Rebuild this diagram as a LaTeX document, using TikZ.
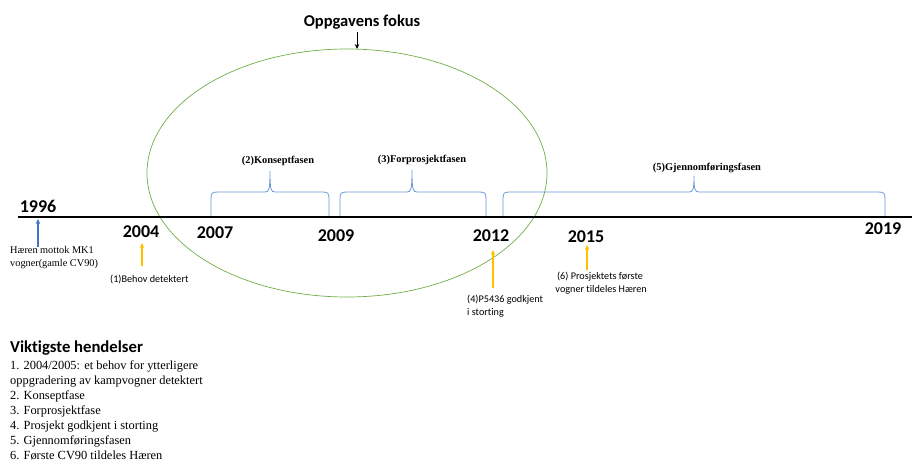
\documentclass[tikz,border=0pt]{standalone}
\usepackage{fontspec}
\setmainfont{Liberation Serif}
\newfontfamily\carlito[Ligatures=NoCommon]{Carlito}
\usetikzlibrary{arrows.meta}
\definecolor{axisblue}{HTML}{4472C4}
\definecolor{bracecol}{HTML}{6A96D6}
\definecolor{focusgreen}{HTML}{70AD47}
\definecolor{eventgold}{HTML}{FFC000}
\tikzset{
  year/.style={font=\carlito\bfseries\fontsize{18}{18}\selectfont, inner sep=0pt},
  phaselabel/.style={font=\bfseries\fontsize{10.4}{12}\selectfont, inner sep=0pt},
  sansnote/.style={font=\carlito\fontsize{10.2}{13}\selectfont, inner sep=0pt, align=left},
  serifnote/.style={font=\fontsize{10.3}{13}\selectfont, inner sep=0pt, align=left},
  eventarrow/.style={eventgold, line width=1.2pt, -{Stealth[length=5pt,width=4.5pt]}},
  bracestyle/.style={bracecol, line width=0.8pt},
  legendline/.style={font=\fontsize{12.4}{15}\selectfont, inner sep=0pt, anchor=base west},
}
% curly phase brace: left x, right x, middle x, tip y
\newcommand\phasebrace[4]{%
  \draw[bracestyle] (#1,216) -- (#1,199)
    .. controls (#1,193) and (#1+1,192) .. (#1+7,192) -- (#3-5,192)
    .. controls (#3-1,192) and (#3,190) .. (#3,#4)
    .. controls (#3,190) and (#3+1,192) .. (#3+5,192) -- (#2-7,192)
    .. controls (#2-1,192) and (#2,193) .. (#2,199) -- (#2,216);}
\begin{document}
\begin{tikzpicture}[x=1pt,y=-1pt]
\useasboundingbox (0,0) rectangle (912,462);

% focus ellipse and its title
\draw[focusgreen, line width=0.7pt] (347,173) ellipse [x radius=200, y radius=124];
\node[font=\carlito\bfseries\fontsize{16.5}{18}\selectfont, inner sep=0pt] (focus) at (362,22) {Oppgavens fokus};
\coordinate (focustop) at (357,49);
\draw[line width=1pt, -{Stealth[length=5pt,width=4.5pt]}] (357,32) -- (focustop);

% time axis
\coordinate (axisstart) at (18,217);
\coordinate (axisend) at (912,217);
\draw[line width=2.6pt] (axisstart) -- (axisend);

% years
\node[year] (y1996) at (38,206) {1996};
\node[year] (y2004) at (141,232) {2004};
\node[year] (y2007) at (215,233) {2007};
\node[year] (y2009) at (336,236) {2009};
\node[year] (y2012) at (491,236) {2012};
\node[year] (y2015) at (586,237) {2015};
\node[year] (y2019) at (883,229) {2019};

% phases
\phasebrace{211}{329}{270}{171}
\phasebrace{340}{486}{412}{170}
\phasebrace{503}{885}{694}{176}
\node[phaselabel] (p2) at (278,161) {(2)Konseptfasen};
\node[phaselabel] (p3) at (422,160) {(3)Forprosjektfasen};
\node[phaselabel] (p5) at (707,168) {(5)Gjennomføringsfasen};

% events
\node[serifnote, anchor=north west] (e0) at (10,246) {Hæren mottok MK1\\vogner(gamle CV90)};
\coordinate (e0tip) at (38,219);
\draw[axisblue, line width=1.2pt, -{Stealth[length=5pt,width=4.5pt]}] (38,247) -- (e0tip);

\node[sansnote, anchor=west] (e1) at (110,279) {(1)Behov detektert};
\coordinate (e1tip) at (142,243);
\draw[eventarrow] (142,266) -- (e1tip);

\node[sansnote, anchor=north west] (e4) at (467,295) {(4)P5436 godkjent\\i storting};
\coordinate (e4tip) at (493,250);
\draw[eventarrow] (493,288) -- (e4tip);

\node[sansnote, align=center, anchor=north] (e6) at (600,272) {(6) Prosjektets første\\ \ vogner tildeles Hæren};
\coordinate (e6tip) at (587,245);
\draw[eventarrow] (587,270) -- (e6tip);

% legend
\node[font=\carlito\bfseries\fontsize{16.7}{18}\selectfont, inner sep=0pt, anchor=west] (legendtitle) at (10,348) {Viktigste hendelser};
\node[legendline] (l1) at (10,369) {1. 2004/2005: et behov for ytterligere};
\node[legendline] (l2) at (10,384) {oppgradering av kampvogner detektert};
\node[legendline] (l3) at (10,399) {2. Konseptfase};
\node[legendline] (l4) at (10,414) {3. Forprosjektfase};
\node[legendline] (l5) at (10,429) {4. Prosjekt godkjent i storting};
\node[legendline] (l6) at (10,444) {5. Gjennomføringsfasen};
\node[legendline] (l7) at (10,459) {6. Første CV90 tildeles Hæren};
\end{tikzpicture}
\end{document}
